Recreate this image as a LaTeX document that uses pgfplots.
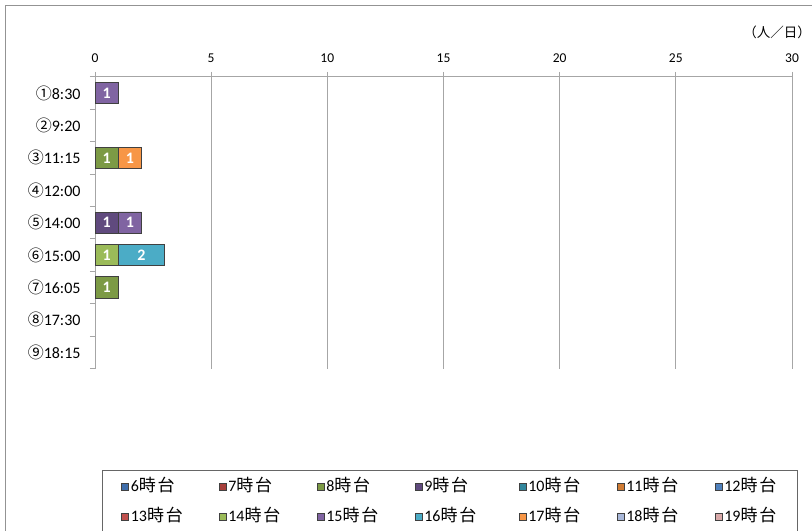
\documentclass[border=0pt]{standalone}
\usepackage{fontspec}
\setmainfont{Carlito}
\newfontfamily\jp{Noto Sans CJK JP}
\usepackage{pgfplots}
\pgfplotsset{compat=1.18}
\pgfkeys{/pgf/number format/assume math mode=true}
\definecolor{c6}{HTML}{3E6DAA}
\definecolor{c7}{HTML}{A8403C}
\definecolor{c8}{HTML}{7C9A45}
\definecolor{c9}{HTML}{604A7E}
\definecolor{c10}{HTML}{31869C}
\definecolor{c11}{HTML}{D07C34}
\definecolor{c12}{HTML}{4F81BD}
\definecolor{c13}{HTML}{C0504D}
\definecolor{c14}{HTML}{9BBB59}
\definecolor{c15}{HTML}{8064A2}
\definecolor{c16}{HTML}{4BACC6}
\definecolor{c17}{HTML}{F79646}
\definecolor{c18}{HTML}{A9B8D9}
\definecolor{c19}{HTML}{D9A9A9}
\definecolor{gridc}{HTML}{A6A6A6}
\definecolor{barb}{HTML}{404040}
\newcommand{\lgt}[2]{\makebox[#1bp][l]{\hspace{2bp}#2{\jp\fontsize{17bp}{19bp}\selectfont 時\hspace{1.8bp}台}}}
\newcommand{\cl}[2]{\mbox{{\jp #1}#2}}
\pgfplotsset{geom/.style={at={(95bp,162.5bp)}, anchor=south west,
  x=23.233bp, y=32.4bp, xmin=0, xmax=30, ymin=-0.5, ymax=8.5}}
\begin{document}
\begin{tikzpicture}
\useasboundingbox (0,0) rectangle (812bp,531bp);
\fill[white] (0,0) rectangle (812bp,531bp);
\draw[line width=1bp, color=gray!85] (5.5bp,-20bp) rectangle (830bp,525.5bp);
\draw[line width=1bp, color=black!60] (102bp,-20bp) rectangle (797bp,60.5bp);
\node[font=\jp\fontsize{13.5bp}{15bp}\selectfont] at (777bp,499bp) {（人／日）};
\begin{axis}[
  geom,
  xbar stacked, bar width=21.4bp,
  axis x line*=top, axis y line*=left,
  axis line style={-, draw=gridc, line width=1bp},
  xtick={0,5,...,30},
  tick align=outside,
  major tick length=5bp,
  tick style={draw=gridc, line width=1bp},
  xmajorgrids, grid style={draw=gridc, line width=1bp},
  xticklabel style={font=\fontsize{13.5bp}{15bp}\selectfont, yshift=6bp},
  ytick={-0.5,0.5,...,8.5},
  y tick label as interval,
  yticklabels={\cl{⑨}{18:15},\cl{⑧}{17:30},\cl{⑦}{16:05},\cl{⑥}{15:00},\cl{⑤}{14:00},\cl{④}{12:00},\cl{③}{11:15},\cl{②}{9:20},\cl{①}{8:30}},
  yticklabel style={font=\fontsize{16bp}{18bp}\selectfont, xshift=-6bp},
  every axis plot/.append style={draw=barb, line width=0.8bp},
  legend image code/.code={\draw[#1, line width=0.6bp] (0bp,-3.5bp) rectangle (7bp,3.5bp);},
  legend columns=7,
  legend cell align=left,
  legend style={at={(axis description cs:0.0373,-0.379)}, anchor=north west, draw=none, fill=none, inner sep=0pt,
    nodes={inner sep=0bp, text height=12bp, text depth=4bp, font=\fontsize{16bp}{19bp}\selectfont},
    /tikz/every even column/.append style={column sep=0bp},
    row sep=14bp},
]
\addlegendimage{fill=c6, draw=barb}
\addlegendentry{\lgt{89.9}{6}}
\addlegendimage{fill=c7, draw=barb}
\addlegendentry{\lgt{90.4}{7}}
\addplot[fill=c8] coordinates {(0,8) (1,6) (0,4) (0,3) (1,2)};
\addlegendentry{\lgt{90.4}{8}}
\addplot[fill=c9] coordinates {(0,8) (0,6) (1,4) (0,3) (0,2)};
\addlegendentry{\lgt{96.4}{9}}
\addlegendimage{fill=c10, draw=barb}
\addlegendentry{\lgt{90.4}{10}}
\addlegendimage{fill=c11, draw=barb}
\addlegendentry{\lgt{90.4}{11}}
\addlegendimage{fill=c12, draw=barb}
\addlegendentry{\lgt{75}{12}}
\addlegendimage{fill=c13, draw=barb}
\addlegendentry{\lgt{89.9}{13}}
\addplot[fill=c14] coordinates {(0,8) (0,6) (0,4) (1,3) (0,2)};
\addlegendentry{\lgt{90.4}{14}}
\addplot[fill=c15] coordinates {(1,8) (0,6) (1,4) (0,3) (0,2)};
\addlegendentry{\lgt{90.4}{15}}
\addplot[fill=c16] coordinates {(0,8) (0,6) (0,4) (2,3) (0,2)};
\addlegendentry{\lgt{96.4}{16}}
\addplot[fill=c17] coordinates {(0,8) (1,6) (0,4) (0,3) (0,2)};
\addlegendentry{\lgt{90.4}{17}}
\addlegendimage{fill=c18, draw=barb}
\addlegendentry{\lgt{90.4}{18}}
\addlegendimage{fill=c19, draw=barb}
\addlegendentry{\lgt{75}{19}}
\end{axis}
% data labels: value shown at the middle of each segment
\begin{axis}[geom, hide axis, clip=false]
\addplot[only marks, mark=none, point meta=explicit symbolic,
  nodes near coords,
  every node near coord/.append style={anchor=center, text=white, inner sep=0pt, font=\bfseries\fontsize{16bp}{16bp}\selectfont}]
  coordinates {(0.5,8) [1] (0.5,6) [1] (1.5,6) [1] (0.5,4) [1] (1.5,4) [1] (0.5,3) [1] (2,3) [2] (0.5,2) [1]};
\end{axis}
\end{tikzpicture}
\end{document}
